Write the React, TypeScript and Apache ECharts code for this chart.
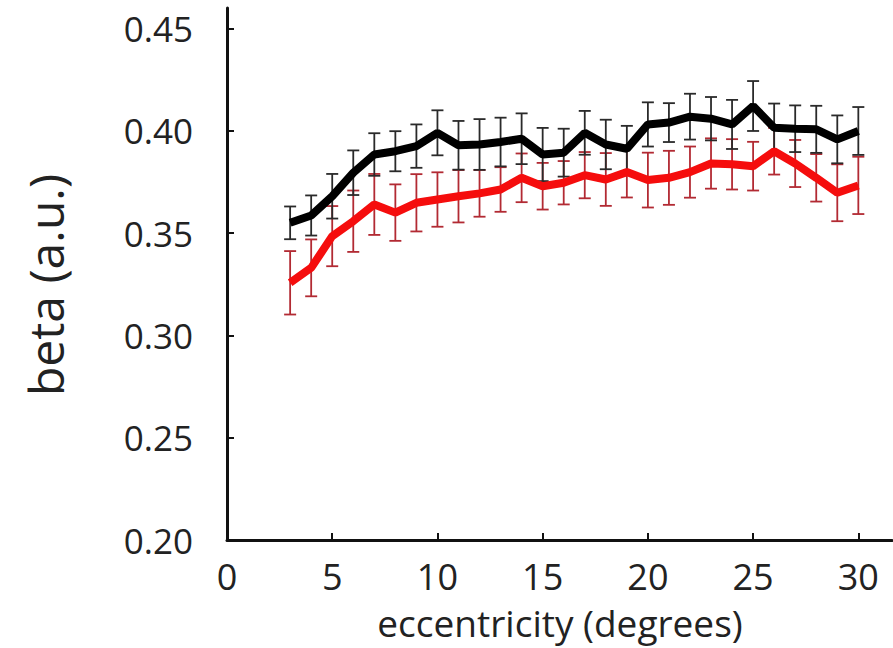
import React, { useEffect, useRef } from "react";
import * as echarts from "echarts";

const eccentricity = [3,4,5,6,7,8,9,10,11,12,13,14,15,16,17,18,19,20,21,22,23,24,25,26,27,28,29,30];
const blackMean = [0.355,0.3586,0.368,0.3795,0.3884,0.390,0.3925,0.399,0.3929,0.3933,0.3945,0.3961,0.3884,0.3893,0.399,0.3933,0.3912,0.4031,0.404,0.4069,0.4059,0.4031,0.4121,0.4015,0.401,0.4007,0.3958,0.3999];
const blackErr = [0.008,0.0098,0.0109,0.0109,0.0104,0.0098,0.0106,0.011,0.0119,0.0124,0.0119,0.0124,0.013,0.0117,0.0107,0.0121,0.0112,0.0108,0.0095,0.0112,0.0106,0.012,0.0122,0.0118,0.0114,0.0115,0.0117,0.0117];
const redMean = [0.3257,0.333,0.3485,0.3558,0.364,0.36,0.3648,0.3664,0.368,0.3694,0.3713,0.377,0.3729,0.3746,0.3783,0.3762,0.3798,0.3759,0.377,0.3798,0.384,0.3836,0.3827,0.39,0.384,0.377,0.3697,0.3733];
const redErr = [0.0155,0.0139,0.0147,0.015,0.0149,0.0138,0.014,0.0133,0.0128,0.0114,0.0109,0.0119,0.0114,0.0106,0.0113,0.0129,0.0124,0.0134,0.0132,0.0125,0.0123,0.0123,0.0119,0.0114,0.0115,0.0116,0.0139,0.014];
const xTicks = [0,5,10,15,20,25,30];
const yTicks = [0.2,0.25,0.3,0.35,0.4,0.45];

const FONT = "'Open Sans', 'DejaVu Sans', sans-serif";

function errData(mean: number[], err: number[]) {
  return eccentricity.map((x, i) => [x, mean[i] - err[i], mean[i] + err[i]]);
}

function errSeries(mean: number[], err: number[], color: string) {
  return {
    type: "custom",
    data: errData(mean, err),
    encode: { x: 0, y: [1, 2] },
    z: 1,
    renderItem: (params: any, api: any) => {
      const x = api.value(0);
      const lo = api.coord([x, api.value(1)]);
      const hi = api.coord([x, api.value(2)]);
      const w = 6;
      const style = { stroke: color, lineWidth: 1.8 };
      return {
        type: "group",
        children: [
          { type: "line", shape: { x1: lo[0], y1: lo[1], x2: hi[0], y2: hi[1] }, style },
          { type: "line", shape: { x1: lo[0] - w, y1: lo[1], x2: lo[0] + w, y2: lo[1] }, style },
          { type: "line", shape: { x1: hi[0] - w, y1: hi[1], x2: hi[0] + w, y2: hi[1] }, style },
        ],
      };
    },
  };
}

export default function App() {
  const ref = useRef<HTMLDivElement>(null);
  useEffect(() => {
    if (!ref.current) return;
    const chart = echarts.init(ref.current, null, { renderer: "svg" });
    chart.setOption({
      animation: false,
      backgroundColor: "#ffffff",
      grid: { left: 227, top: 8, right: 1, bottom: 108 },
      xAxis: {
        type: "value",
        min: 0,
        max: 31.6,
        interval: 5,
        axisLine: { lineStyle: { color: "#111", width: 3 } },
        axisTick: { inside: true, length: 7, customValues: xTicks, lineStyle: { color: "#111", width: 2 } },
        axisLabel: {
          customValues: xTicks,
          margin: 21,
          fontSize: 36,
          lineHeight: 30,
          color: "#222",
          fontFamily: FONT,
        },
        splitLine: { show: false },
      },
      yAxis: {
        type: "value",
        min: 0.2,
        max: 0.46,
        interval: 0.05,
        axisLine: { show: true, lineStyle: { color: "#111", width: 3 } },
        axisTick: { show: true, inside: true, length: 7, customValues: yTicks, lineStyle: { color: "#111", width: 2 } },
        axisLabel: {
          customValues: yTicks,
          margin: 34,
          fontSize: 35,
          color: "#222",
          fontFamily: FONT,
          formatter: (v: number) => v.toFixed(2),
        },
        splitLine: { show: false },
      },
      graphic: [
        {
          type: "text",
          x: 45,
          y: 285,
          rotation: Math.PI / 2,
          style: {
            text: "beta (a.u.)",
            fontSize: 48,
            fontFamily: FONT,
            fill: "#222",
            align: "center",
            verticalAlign: "middle",
          },
        },
        {
          type: "text",
          x: 560,
          y: 622,
          style: {
            text: "eccentricity (degrees)",
            fontSize: 37,
            lineHeight: 34,
            fontFamily: FONT,
            fill: "#222",
            align: "center",
            verticalAlign: "middle",
          },
        },
      ],
      series: [
        errSeries(redMean, redErr, "#b22a33"),
        errSeries(blackMean, blackErr, "#2a2a2a"),
        {
          type: "line",
          data: eccentricity.map((x, i) => [x, blackMean[i]]),
          showSymbol: false,
          symbol: "none",
          lineStyle: { color: "#000", width: 8 },
          z: 3,
        },
        {
          type: "line",
          data: eccentricity.map((x, i) => [x, redMean[i]]),
          showSymbol: false,
          symbol: "none",
          lineStyle: { color: "#f50d0d", width: 8 },
          z: 4,
        },
      ],
    });
    return () => chart.dispose();
  }, []);
  return (
    <div
      ref={ref}
      style={{ position: "fixed", left: 0, top: 0, width: 893, height: 648 }}
    />
  );
}
